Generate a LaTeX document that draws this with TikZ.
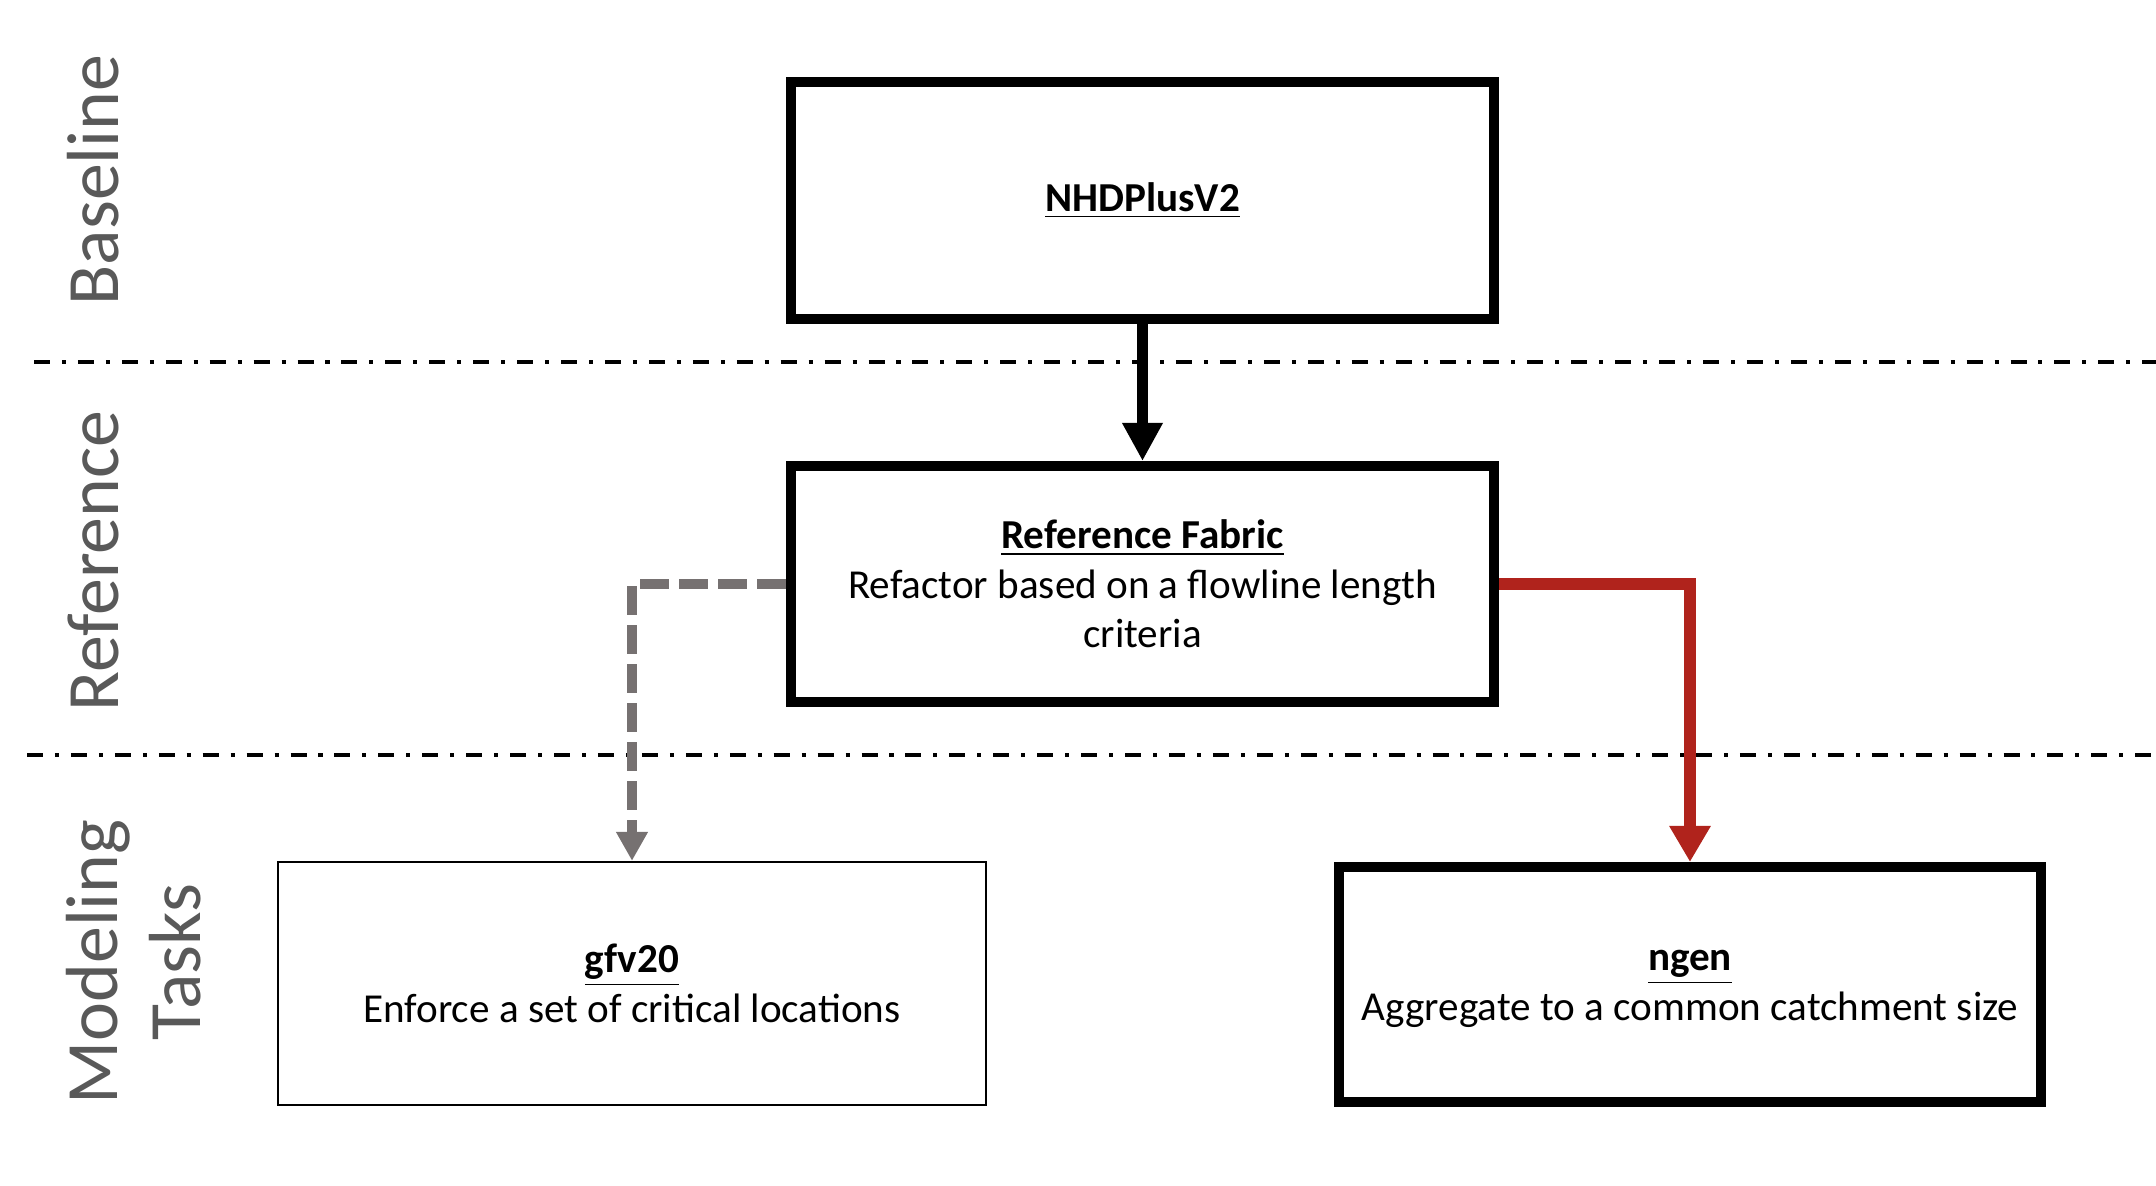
\documentclass[tikz,border=0pt]{standalone}
\usepackage{fontspec}
\setmainfont{Carlito}
\usetikzlibrary{arrows.meta}
\definecolor{lblgray}{RGB}{89,89,89}
\definecolor{arrgray}{RGB}{118,113,113}
\definecolor{arrred}{RGB}{176,35,28}
\tikzset{
  thickbox/.style={draw=black, line width=2.8pt, fill=white, inner sep=0pt, align=center,
    font=\fontsize{11.7}{14.1}\selectfont},
  thinbox/.style={draw=black, line width=0.6pt, fill=white, inner sep=0pt, align=center,
    font=\fontsize{11.7}{14.1}\selectfont},
  rowlabel/.style={rotate=90, text=lblgray, align=center, inner sep=0pt,
    font=\fontsize{21}{23.6}\selectfont},
  sepline/.style={line width=1pt, dash pattern=on 4.55pt off 3.4pt on 1.14pt off 3.4pt},
}
\begin{document}
\begin{tikzpicture}[x=0.01cm, y=-0.01cm]
\useasboundingbox (0,0) rectangle (2156,1186);
% separators
\coordinate (s1a) at (34,362); \coordinate (s1b) at (2156,362);
\coordinate (s2a) at (27,755); \coordinate (s2b) at (2156,755);
\draw[sepline] (s1a) -- (s1b);
\draw[sepline] (s2a) -- (s2b);
% row labels
\node[rowlabel] (lb1) at (93,180) {Baseline};
\node[rowlabel] (lb2) at (93,561) {Reference};
\node[rowlabel] (lb3) at (134,962) {Modeling\\Tasks};
% boxes
\node[thickbox, minimum width=7.03cm, minimum height=2.37cm] (nhd) at (1142.5,200.5)
  {\textbf{\underline{NHDPlusV2}}};
\node[thickbox, minimum width=7.03cm, minimum height=2.36cm] (ref) at (1142.5,584)
  {\textbf{\underline{Reference Fabric}}\\Refactor based on a flowline length\\criteria};
\node[thinbox, minimum width=7.08cm, minimum height=2.43cm] (gfv) at (632,983.5)
  {\textbf{\underline{gfv20}}\\Enforce a set of critical locations};
\node[thickbox, minimum width=7.02cm, minimum height=2.35cm] (ngen) at (1690,984.5)
  {\textbf{\vphantom{f}\underline{ngen}}\\Aggregate to a common catchment size};
% connectors
\draw[line width=3.2pt, -{Triangle[length=0.38cm, width=0.38cm]}] (nhd.south) -- (ref.north);
\draw[arrgray, line width=2.8pt, dash pattern=on 8.25pt off 2.85pt,
  -{Triangle[length=0.29cm, width=0.30cm]}] (ref.west) -| (gfv.north);
\draw[arrred, line width=3.4pt, -{Triangle[length=0.36cm, width=0.39cm]}] (ref.east) -| (ngen.north);
\end{tikzpicture}
\end{document}
